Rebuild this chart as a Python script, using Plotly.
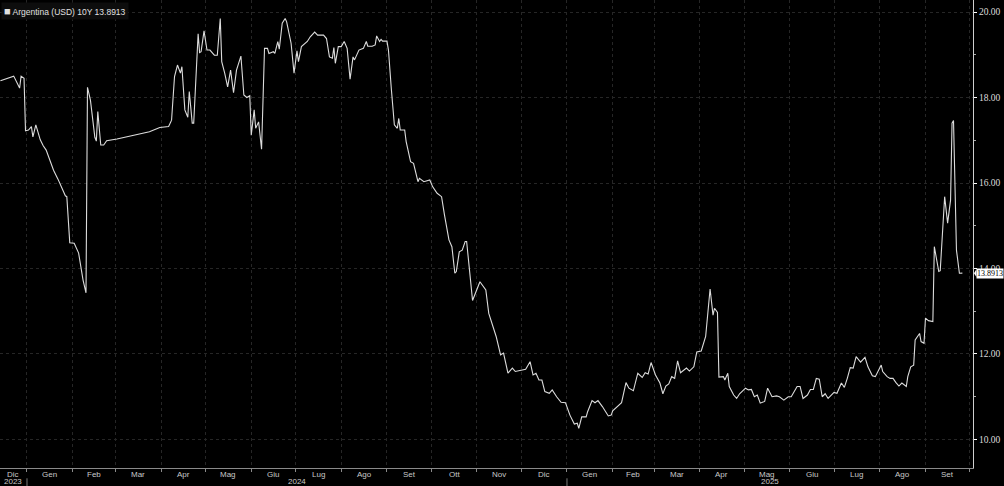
import pandas as pd
import plotly.graph_objects as go

series_name = "Argentina (USD) 10Y"

dates = [
    "2023-12-14", "2023-12-23", "2023-12-27", "2023-12-28", "2023-12-30", "2023-12-31",
    "2024-01-02", "2024-01-04", "2024-01-05", "2024-01-07", "2024-01-10", "2024-01-12",
    "2024-01-14", "2024-01-19", "2024-01-22", "2024-01-27", "2024-01-28", "2024-01-30",
    "2024-02-02", "2024-02-05", "2024-02-08", "2024-02-10", "2024-02-11", "2024-02-13",
    "2024-02-16", "2024-02-17", "2024-02-18", "2024-02-20", "2024-02-22", "2024-02-24",
    "2024-03-02", "2024-03-13", "2024-03-24", "2024-03-31", "2024-04-06", "2024-04-08",
    "2024-04-10", "2024-04-12", "2024-04-14", "2024-04-15", "2024-04-17", "2024-04-19",
    "2024-04-20", "2024-04-22", "2024-04-23", "2024-04-26", "2024-04-27", "2024-04-28",
    "2024-04-30", "2024-05-02", "2024-05-04", "2024-05-07", "2024-05-09", "2024-05-11",
    "2024-05-12", "2024-05-14", "2024-05-16", "2024-05-18", "2024-05-20", "2024-05-22",
    "2024-05-25", "2024-05-27", "2024-05-29", "2024-05-31", "2024-06-01", "2024-06-03",
    "2024-06-04", "2024-06-06", "2024-06-08", "2024-06-10", "2024-06-12", "2024-06-13",
    "2024-06-16", "2024-06-17", "2024-06-19", "2024-06-20", "2024-06-22", "2024-06-24",
    "2024-06-25", "2024-06-28", "2024-06-30", "2024-07-02", "2024-07-03", "2024-07-05",
    "2024-07-09", "2024-07-11", "2024-07-14", "2024-07-16", "2024-07-20", "2024-07-22",
    "2024-07-24", "2024-07-26", "2024-07-27", "2024-07-28", "2024-07-30", "2024-08-01",
    "2024-08-03", "2024-08-05", "2024-08-07", "2024-08-09", "2024-08-10", "2024-08-13",
    "2024-08-16", "2024-08-18", "2024-08-19", "2024-08-22", "2024-08-24", "2024-08-25",
    "2024-08-27", "2024-08-28", "2024-08-29", "2024-09-01", "2024-09-02", "2024-09-04",
    "2024-09-06", "2024-09-08", "2024-09-09", "2024-09-10", "2024-09-13", "2024-09-14",
    "2024-09-17", "2024-09-19", "2024-09-22", "2024-09-23", "2024-09-26", "2024-09-30",
    "2024-10-02", "2024-10-05", "2024-10-08", "2024-10-10", "2024-10-13", "2024-10-15",
    "2024-10-17", "2024-10-18", "2024-10-20", "2024-10-22", "2024-10-24", "2024-10-25",
    "2024-10-29", "2024-11-03", "2024-11-06", "2024-11-07", "2024-11-09", "2024-11-12",
    "2024-11-14", "2024-11-17", "2024-11-19", "2024-11-22", "2024-11-25", "2024-11-27",
    "2024-12-01", "2024-12-04", "2024-12-07", "2024-12-09", "2024-12-11", "2024-12-13",
    "2024-12-15", "2024-12-17", "2024-12-20", "2024-12-22", "2024-12-25", "2024-12-28",
    "2024-12-31", "2025-01-03", "2025-01-06", "2025-01-08", "2025-01-09", "2025-01-11",
    "2025-01-14", "2025-01-15", "2025-01-18", "2025-01-20", "2025-01-22", "2025-01-25",
    "2025-01-29", "2025-01-31", "2025-02-01", "2025-02-04", "2025-02-07", "2025-02-10",
    "2025-02-12", "2025-02-15", "2025-02-18", "2025-02-21", "2025-02-23", "2025-02-25",
    "2025-02-27", "2025-03-02", "2025-03-05", "2025-03-07", "2025-03-09", "2025-03-11",
    "2025-03-13", "2025-03-15", "2025-03-17", "2025-03-19", "2025-03-23", "2025-03-25",
    "2025-03-28", "2025-03-30", "2025-04-02", "2025-04-05", "2025-04-07", "2025-04-08",
    "2025-04-10", "2025-04-11", "2025-04-13", "2025-04-14", "2025-04-17", "2025-04-18",
    "2025-04-20", "2025-04-21", "2025-04-24", "2025-04-26", "2025-04-28", "2025-05-02",
    "2025-05-04", "2025-05-06", "2025-05-08", "2025-05-10", "2025-05-12", "2025-05-15",
    "2025-05-17", "2025-05-20", "2025-05-23", "2025-05-25", "2025-05-28", "2025-05-31",
    "2025-06-02", "2025-06-06", "2025-06-08", "2025-06-10", "2025-06-13", "2025-06-15",
    "2025-06-17", "2025-06-19", "2025-06-21", "2025-06-23", "2025-06-25", "2025-06-27",
    "2025-07-01", "2025-07-03", "2025-07-06", "2025-07-08", "2025-07-10", "2025-07-12",
    "2025-07-14", "2025-07-16", "2025-07-19", "2025-07-22", "2025-07-24", "2025-07-27",
    "2025-07-29", "2025-08-02", "2025-08-03", "2025-08-06", "2025-08-08", "2025-08-10",
    "2025-08-12", "2025-08-14", "2025-08-16", "2025-08-19", "2025-08-20", "2025-08-22",
    "2025-08-24", "2025-08-25", "2025-08-28", "2025-08-29", "2025-08-31", "2025-09-01",
    "2025-09-03", "2025-09-06", "2025-09-07", "2025-09-10", "2025-09-11", "2025-09-14",
    "2025-09-16", "2025-09-18", "2025-09-19", "2025-09-20", "2025-09-22", "2025-09-24",
    "2025-09-26",
]

values = [
    18.39, 18.50, 18.22, 18.50, 18.45, 17.22,
    17.24, 17.32, 17.08, 17.36, 17.01, 16.87,
    16.77, 16.30, 16.09, 15.70, 15.68, 14.60,
    14.59, 14.36, 13.73, 13.43, 18.24, 17.94,
    17.07, 16.98, 17.67, 16.89, 16.89, 16.99,
    17.03, 17.12, 17.20, 17.30, 17.32, 17.47,
    18.49, 18.76, 18.57, 18.72, 17.71, 17.54,
    18.14, 17.40, 17.40, 19.49, 19.05, 19.07,
    19.56, 19.11, 19.11, 18.99, 18.99, 19.85,
    18.84, 18.57, 18.25, 18.64, 18.11, 18.64,
    18.97, 18.06, 18.00, 18.04, 17.12, 17.71,
    17.28, 17.43, 16.79, 19.15, 19.15, 19.03,
    19.07, 19.03, 19.31, 19.13, 19.74, 19.85,
    19.77, 19.27, 18.57, 19.09, 18.84, 19.19,
    19.31, 19.42, 19.53, 19.46, 19.46, 19.38,
    18.95, 18.92, 19.17, 18.80, 19.19, 19.19,
    19.31, 19.15, 18.43, 18.95, 18.88, 19.11,
    19.15, 19.31, 19.20, 19.20, 19.23, 19.44,
    19.31, 19.36, 19.32, 19.32, 19.11, 18.18,
    17.36, 17.28, 17.51, 17.24, 17.24, 16.97,
    16.50, 16.46, 16.03, 16.11, 16.03, 16.07,
    15.91, 15.76, 15.68, 15.25, 14.67, 14.51,
    13.89, 13.93, 14.39, 14.43, 14.63, 14.63,
    13.25, 13.69, 13.54, 13.50, 12.95, 12.64,
    12.41, 11.98, 12.02, 11.55, 11.67, 11.59,
    11.61, 11.64, 11.82, 11.51, 11.55, 11.39,
    11.39, 11.12, 11.08, 11.16, 11.00, 10.87,
    10.86, 10.57, 10.36, 10.38, 10.26, 10.53,
    10.53, 10.65, 10.91, 10.86, 10.91, 10.77,
    10.55, 10.57, 10.67, 10.77, 10.86, 11.33,
    11.20, 11.14, 11.55, 11.45, 11.56, 11.53,
    11.80, 11.51, 11.32, 11.07, 11.25, 11.30,
    11.47, 11.43, 11.84, 11.56, 11.67, 11.60,
    11.70, 12.05, 12.07, 12.41, 13.26, 13.52,
    12.91, 13.07, 12.97, 11.46, 11.47, 11.39,
    11.55, 11.24, 11.04, 10.96, 11.07, 11.20,
    11.16, 11.17, 11.00, 11.04, 10.85, 10.89,
    11.20, 11.00, 11.02, 11.00, 10.92, 11.00,
    11.00, 11.24, 11.24, 10.96, 11.04, 11.17,
    11.17, 11.43, 11.41, 11.00, 11.07, 10.96,
    11.10, 11.08, 11.32, 11.22, 11.43, 11.68,
    11.67, 11.94, 11.81, 11.92, 11.70, 11.49,
    11.47, 11.74, 11.59, 11.47, 11.43, 11.43,
    11.33, 11.25, 11.32, 11.24, 11.47, 11.70,
    11.74, 12.33, 12.48, 12.29, 12.25, 12.84,
    12.78, 12.76, 14.51, 13.93, 13.95, 15.68,
    15.06, 15.60, 17.40, 17.46, 14.43, 13.89,
    13.8913,
]

month_names_it = ["Gen", "Feb", "Mar", "Apr", "Mag", "Giu",
                  "Lug", "Ago", "Set", "Ott", "Nov", "Dic"]
y_tick_values = [10, 12, 14, 16, 18, 20]
y_minor_values = [11, 13, 15, 17, 19]

x_start = pd.Timestamp("2023-12-13 17:00")
x_end = pd.Timestamp("2025-10-03 05:00")
y_range = [9.333, 20.281]

last_value = values[-1]

FONT_SANS = "Liberation Sans, Arial, sans-serif"
FONT_SERIF = "Liberation Serif, Times New Roman, serif"

fig = go.Figure()
fig.add_trace(go.Scatter(
    x=pd.to_datetime(dates), y=values, mode="lines",
    line=dict(color="#dcdcdc", width=1.1),
    name=series_name, showlegend=False, hoverinfo="x+y",
))

# month boundaries (ticks + grid)
month_starts = pd.date_range("2024-01-01", "2025-10-01", freq="MS")

annotations = []
# month labels centred in the visible part of each month
label_starts = pd.date_range("2023-12-01", "2025-09-01", freq="MS")
for ms in label_starts:
    me = ms + pd.offsets.MonthBegin(1)
    a = max(ms, x_start)
    b = min(me, x_end)
    mid = a + (b - a) / 2
    annotations.append(dict(
        x=mid, y=0, xref="x", yref="paper", yshift=-6, showarrow=False,
        text=month_names_it[ms.month - 1], xanchor="center", yanchor="middle",
        font=dict(size=8, color="#c8c8c8", family=FONT_SANS),
    ))

# year labels centred in the visible part of each year
for yr in [2023, 2024, 2025]:
    a = max(pd.Timestamp(f"{yr}-01-01"), x_start)
    b = min(pd.Timestamp(f"{yr + 1}-01-01"), x_end)
    mid = a + (b - a) / 2
    annotations.append(dict(
        x=mid, y=0, xref="x", yref="paper", yshift=-13.5, showarrow=False,
        text=str(yr), xanchor="center", yanchor="middle",
        font=dict(size=8, color="#c8c8c8", family=FONT_SANS),
    ))

# legend-like label
annotations.append(dict(
    x=0, y=1, xref="paper", yref="paper", xanchor="left", yanchor="top",
    xshift=1, yshift=-2, showarrow=False, align="left",
    text=f"<span style='font-size:11px'>■</span> {series_name} {last_value:.4f}",
    font=dict(size=8.5, color="#e0e0e0", family=FONT_SANS),
    bgcolor="#0d0d0d", borderpad=2,
))

# last value tag on the right axis
annotations.append(dict(
    x=1, y=last_value, xref="paper", yref="y", xanchor="left", yanchor="middle",
    xshift=3, showarrow=False, text=f"{last_value:.4f}",
    font=dict(size=8, color="#000000", family=FONT_SERIF),
    bgcolor="#ffffff", borderpad=0,
))

shapes = []
for yb in ["2024-01-01", "2025-01-01"]:
    shapes.append(dict(
        type="line", xref="x", yref="paper", x0=yb, x1=yb, y0=-0.022, y1=-0.04,
        line=dict(color="#777777", width=1),
    ))
# pointer of the last value tag
shapes.append(dict(
    type="path", xref="paper", yref="y",
    path=f"M 1.0010 {last_value} L 1.0035 {last_value + 0.09} L 1.0035 {last_value - 0.09} Z",
    fillcolor="#ffffff", line=dict(width=0),
))

fig.update_layout(
    width=1004, height=486,
    paper_bgcolor="#000000", plot_bgcolor="#000000",
    margin=dict(l=0, r=31, t=0, b=18),
    annotations=annotations, shapes=shapes,
    font=dict(family=FONT_SANS, color="#d0d0d0"),
    xaxis=dict(
        type="date", range=[x_start, x_end],
        tickvals=month_starts, showticklabels=False,
        ticks="outside", ticklen=3, tickcolor="#8a8a8a",
        showgrid=True, gridcolor="#262626", griddash="dot", gridwidth=1,
        showline=True, linecolor="#8a8a8a", linewidth=1,
        zeroline=False, fixedrange=True,
    ),
    yaxis=dict(
        side="right", range=y_range,
        tickvals=y_tick_values, ticktext=[f"{v:.2f}" for v in y_tick_values],
        ticks="outside", ticklen=3, tickcolor="#ffffff",
        tickfont=dict(size=9.5, color="#dcdcdc", family=FONT_SERIF),
        showgrid=True, gridcolor="#262626", griddash="dot", gridwidth=1,
        showline=True, linecolor="#cfcfcf", linewidth=1,
        zeroline=False, fixedrange=True,
        minor=dict(tickvals=y_minor_values, ticks="outside", ticklen=2,
                   tickcolor="#aaaaaa", showgrid=False),
    ),
)

fig.write_html("out.html")
